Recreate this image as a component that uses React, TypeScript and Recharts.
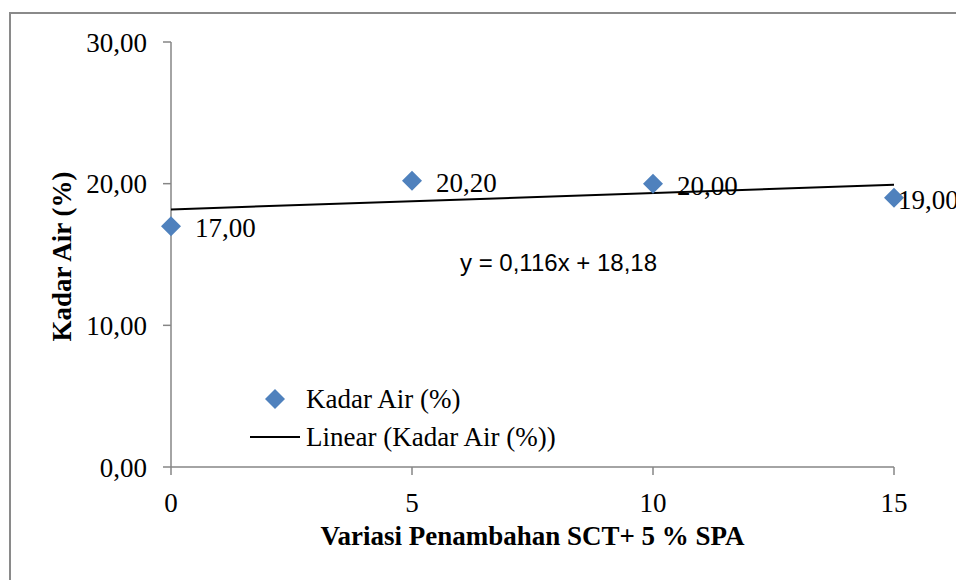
import React from 'react';
import { ScatterChart, Scatter, XAxis, YAxis, Legend, LabelList, Label } from 'recharts';

const xValues = [0, 5, 10, 15];
const kadarAir = [17.0, 20.2, 20.0, 19.0];
const trendX = [0, 15];
const trendY = [18.18, 19.92];
const xTicks = [0, 5, 10, 15];
const yTicks = [0, 10, 20, 30];
const equation = 'y = 0,116x + 18,18';
const seriesName = 'Kadar Air (%)';
const trendName = 'Linear (Kadar Air (%))';
const xTitle = 'Variasi Penambahan SCT+ 5 % SPA';
const yTitle = 'Kadar Air (%)';

const points = xValues.map((x, i) => ({ x, y: kadarAir[i] }));
const trend = trendX.map((x, i) => ({ x, y: trendY[i] }));

const SERIF = '"Liberation Serif", "DejaVu Serif", serif';
const BLUE = '#4F81BD';
const AXIS = '#868686';
const fmt = (v: number) => v.toFixed(2).replace('.', ',');

const Diamond = (props: any) => {
  const { cx, cy } = props;
  if (cx == null || cy == null) return null;
  const r = 10;
  return <polygon points={`${cx},${cy - r} ${cx + r},${cy} ${cx},${cy + r} ${cx - r},${cy}`} fill={BLUE} />;
};

const NoShape = () => null;

const PointLabel = (props: any) => {
  const { x, y, width, height, value, index } = props;
  const cx = x + (width || 0) / 2;
  const cy = y + (height || 0) / 2;
  const dx = index === points.length - 1 ? 4 : 24;
  return (
    <text x={cx + dx} y={cy + 2} dominantBaseline="central" fontFamily={SERIF} fontSize={27} fill="#000">
      {fmt(value)}
    </text>
  );
};

const LegendContent = () => (
  <div style={{ fontFamily: SERIF, fontSize: 27, color: '#000', lineHeight: '38px' }}>
    <div style={{ display: 'flex', alignItems: 'center' }}>
      <svg width={58} height={24}>
        <polygon points="27,2 37,12 27,22 17,12" fill={BLUE} />
      </svg>
      <span>{seriesName}</span>
    </div>
    <div style={{ display: 'flex', alignItems: 'center' }}>
      <svg width={58} height={24}>
        <line x1={2} y1={12} x2={52} y2={12} stroke="#000" strokeWidth={2} />
      </svg>
      <span>{trendName}</span>
    </div>
  </div>
);

const YTitle = (props: any) => {
  const vb = props.viewBox || {};
  const cy = vb.y + vb.height / 2;
  return (
    <text
      x={62}
      y={cy + 2}
      transform={`rotate(-90, 62, ${cy + 2})`}
      textAnchor="middle"
      dominantBaseline="central"
      fontFamily={SERIF}
      fontSize={27}
      fontWeight="bold"
      fill="#000"
    >
      {yTitle}
    </text>
  );
};

export default function App() {
  return (
    <div style={{ position: 'absolute', left: 0, top: 0, width: 956, height: 580, background: '#fff', overflow: 'hidden' }}>
      <div
        style={{
          position: 'absolute',
          left: 9,
          top: 12,
          width: 960,
          height: 580,
          borderLeft: '2px solid #8a8a8a',
          borderTop: '2px solid #8a8a8a',
        }}
      />
      <ScatterChart width={956} height={580} margin={{ top: 42, right: 62, bottom: 33, left: 0 }} style={{ position: 'absolute', left: 0, top: 0 }}>
        <XAxis
          type="number"
          dataKey="x"
          domain={[0, 15]}
          ticks={xTicks}
          height={80}
          stroke={AXIS}
          strokeWidth={1.5}
          tickSize={8}
          tickMargin={18}
          tick={{ fill: '#000', fontFamily: SERIF, fontSize: 27 }}
          tickLine={{ stroke: AXIS, strokeWidth: 1.5 }}
        >
          <Label
            value={xTitle}
            position="insideBottom"
            offset={2}
            style={{ fontFamily: SERIF, fontSize: 27, fontWeight: 'bold', fill: '#000' }}
          />
        </XAxis>
        <YAxis
          type="number"
          dataKey="y"
          domain={[0, 30]}
          ticks={yTicks}
          width={171}
          stroke={AXIS}
          strokeWidth={1.5}
          tickSize={8}
          tickMargin={16}
          tickFormatter={fmt}
          tick={{ fill: '#000', fontFamily: SERIF, fontSize: 27 }}
          tickLine={{ stroke: AXIS, strokeWidth: 1.5 }}
        >
          <Label content={<YTitle />} />
        </YAxis>
        <Legend
          layout="horizontal"
          verticalAlign="middle"
          align="center"
          content={<LegendContent />}
          wrapperStyle={{ left: 248, top: 380, width: 320 }}
        />
        <Scatter
          name={trendName}
          data={trend}
          line={{ stroke: '#000', strokeWidth: 2 }}
          shape={<NoShape />}
          isAnimationActive={false}
          legendType="line"
        />
        <Scatter name={seriesName} data={points} shape={<Diamond />} isAnimationActive={false}>
          <LabelList dataKey="y" content={<PointLabel />} />
        </Scatter>
      </ScatterChart>
      <div
        style={{
          position: 'absolute',
          left: 460,
          top: 247,
          fontFamily: '"Liberation Sans", Arial, sans-serif',
          fontSize: 24,
          color: '#000',
          whiteSpace: 'nowrap',
          lineHeight: '32px',
        }}
      >
        {equation}
      </div>
    </div>
  );
}
